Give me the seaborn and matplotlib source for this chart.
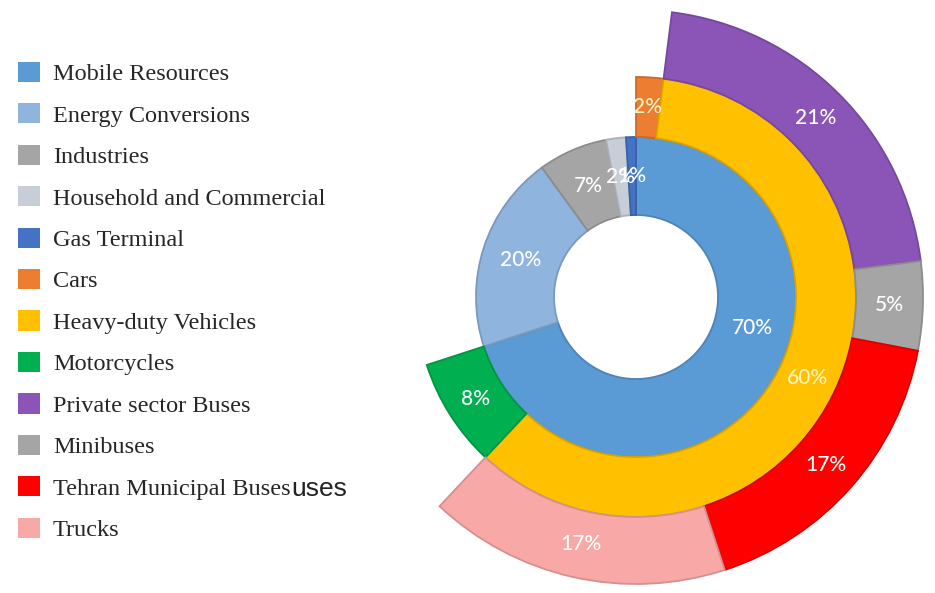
import numpy as np
import pandas as pd
import seaborn as sns
import matplotlib.pyplot as plt
from matplotlib.patches import Patch
from matplotlib import colors as mcolors

# inner ring: emission sources (%)
source_names = ["Mobile Resources", "Energy Conversions", "Industries",
                "Household and Commercial", "Gas Terminal"]
source_share = [70, 20, 7, 2, 1]
source_colors = ["#5b9bd5", "#8fb4de", "#a5a5a5", "#c8ced8", "#4472c4"]

# middle ring: split of mobile resources (%)
mobile_names = ["Cars", "Heavy-duty Vehicles", "Motorcycles"]
mobile_share = [2, 60, 8]
mobile_colors = ["#ed7d31", "#ffc000", "#00b050"]

# outer ring: split of heavy-duty vehicles (%)
heavy_names = ["Private sector Buses", "Minibuses", "Tehran Municipal Buses", "Trucks"]
heavy_share = [21, 5, 17, 17]
heavy_colors = ["#8b55b8", "#a5a5a5", "#ff0000", "#f9a8a8"]

sns.set_theme(style="white")
plt.rcParams['font.family'] = ['Lato', 'DejaVu Sans']

W, H = 935, 593
fig = plt.figure(figsize=(W / 100, H / 100), dpi=100)
cx, cy = 636, 296  # pie centre in pixels (from bottom)
half = 300
ax = fig.add_axes([(cx - half) / W, (cy - half) / H, 2 * half / W, 2 * half / H])


def darker(c, f=0.85):
    r, g, b = mcolors.to_rgb(c)
    return (r * f, g * f, b * f)


def ring(values, cols, r_in, r_out, lead=0, label_colors=None, label_angle=None):
    vals = [lead] + list(values) + [100 - lead - sum(values)]
    face = ["white"] + list(cols) + ["white"]
    wedges, _ = ax.pie(vals, radius=r_out, startangle=90, counterclock=False,
                       colors=face, wedgeprops=dict(width=r_out - r_in, linewidth=1.3))
    wedges[0].set_visible(False)
    wedges[-1].set_visible(False)
    for w, c in zip(wedges[1:-1], cols):
        w.set_edgecolor(darker(c))
    # labels at the middle of each wedge
    start = np.cumsum([lead] + list(values))[:-1]
    mids = (start + np.array(values) / 2) * 3.6
    r_lab = (r_in + r_out) / 2
    for i, (v, a) in enumerate(zip(values, mids)):
        if label_angle and i in label_angle:
            a = label_angle[i]
        t = np.deg2rad(a)
        col = label_colors[i] if label_colors else "white"
        ax.text(r_lab * np.sin(t), r_lab * np.cos(t), f"{v:g}%", color=col,
                ha="center", va="center", fontsize=15, fontweight="medium")


r0, r1, r2, r3 = 82, 160, 220, 287
ring(source_share, source_colors, r0, r1, label_angle={0: 105})
ring(mobile_share, mobile_colors, r1, r2,
     label_colors=["#fff3c4", "#fff3c4", "white"])
ring(heavy_share, heavy_colors, r2, r3, lead=mobile_share[0])

ax.set_xlim(-half, half)
ax.set_ylim(-half, half)
ax.set_aspect("equal")
ax.axis("off")

names = source_names + mobile_names + heavy_names
cols = source_colors + mobile_colors + heavy_colors
handles = [Patch(facecolor=c, edgecolor="none") for c in cols]
leg = fig.legend(handles, names, loc="upper left", bbox_to_anchor=(8 / W, 1 - 52 / H),
                 frameon=False, prop={"family": "Liberation Serif", "size": 17.5},
                 handlelength=0.9, handleheight=0.9, handletextpad=0.55,
                 labelspacing=0.74, borderaxespad=0)

# stray "uses" after the Tehran buses entry, as in the source figure
fig.canvas.draw()
txt = [t for t in leg.get_texts() if t.get_text() == "Tehran Municipal Buses"][0]
bb = txt.get_window_extent()
fig.text((bb.x1 + 1) / W, (bb.y0 + bb.y1) / 2 / H, "uses", family="Liberation Sans",
         fontsize=19, va="center", ha="left", color="#222222")

fig.savefig("out.png", dpi=100)
